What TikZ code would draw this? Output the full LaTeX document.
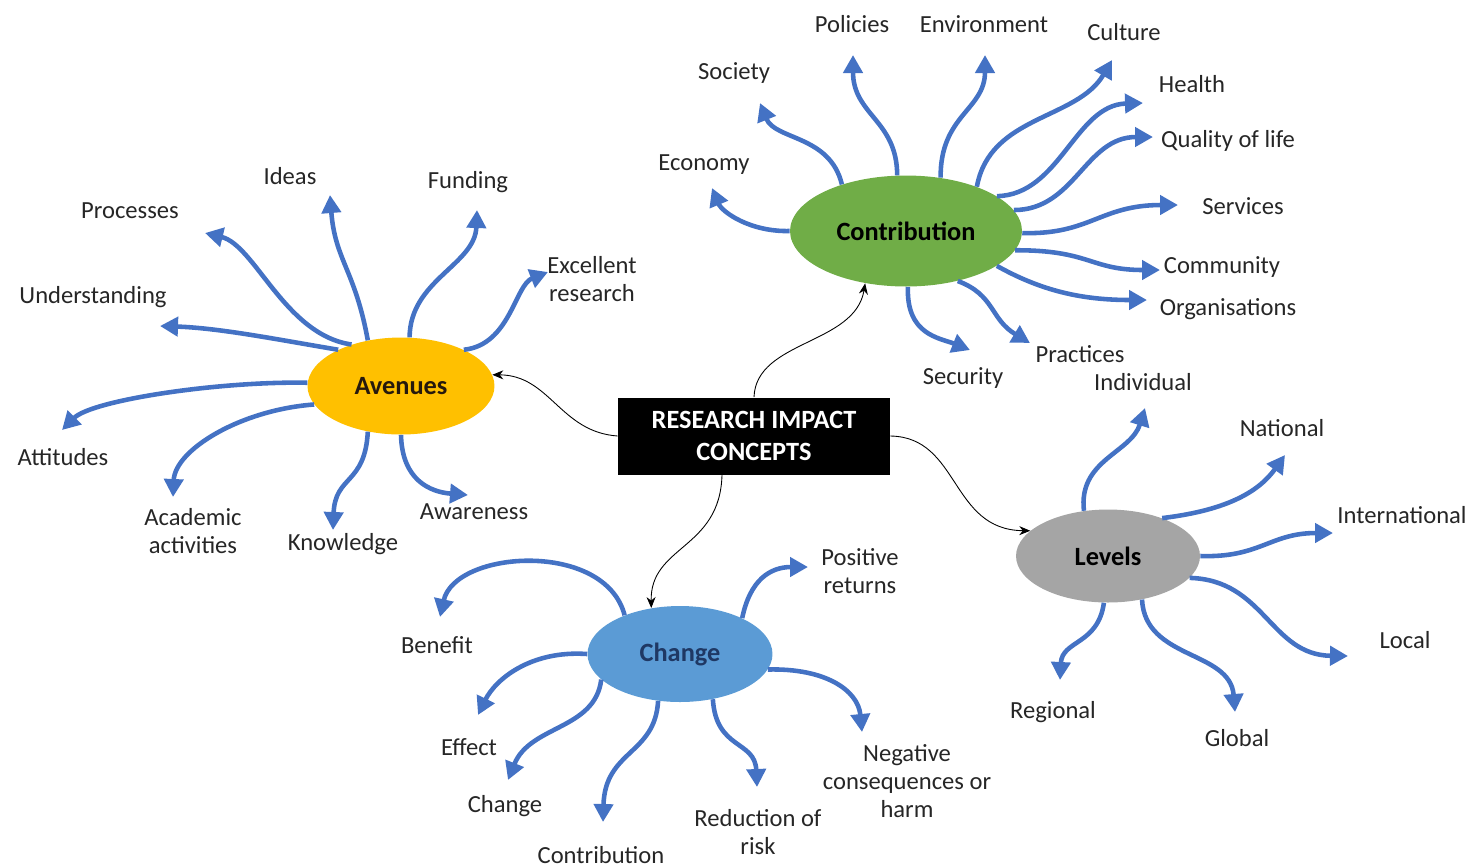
\documentclass[tikz,border=0pt]{standalone}
\usepackage{fontspec}
\setmainfont{Carlito}
\usetikzlibrary{shapes.geometric,arrows.meta}
\definecolor{spokeblue}{HTML}{4472C4}
\definecolor{hubgreen}{HTML}{70AD47}
\definecolor{hubgold}{HTML}{FFC000}
\definecolor{hubgray}{HTML}{A5A5A5}
\definecolor{hubblue}{HTML}{5B9BD5}
\definecolor{hubnavy}{HTML}{1F3864}
\tikzset{
  hub/.style={ellipse,inner sep=0pt,font=\fontsize{15}{18}\selectfont\bfseries},
  spoke/.style={draw=spokeblue,line width=2.6pt,-{Triangle[length=3.6mm,width=3.8mm]}},
  link/.style={draw=black,line width=0.5pt,-{Stealth[length=2.2mm,width=1.8mm]}},
  lbl/.style={font=\fontsize{14}{16}\selectfont,text=black!85,align=center,inner sep=0pt}
}
\begin{document}
\begin{tikzpicture}[x=0.02cm,y=-0.02cm]
\useasboundingbox (0,0) rectangle (1473,867);
\node[fill=black,text=white,font=\fontsize{15}{18}\selectfont\bfseries,align=center,minimum width=5.44cm,minimum height=1.54cm] (concepts) at (754,436) {RESEARCH IMPACT\\CONCEPTS};
\node[hub,fill=hubgreen,minimum width=4.64cm,minimum height=2.22cm] (contrib) at (906,231) {Contribution};
\node[hub,fill=hubgold,text=black!80!brown,minimum width=3.74cm,minimum height=1.94cm] (avenues) at (401,386) {Avenues};
\node[hub,fill=hubgray,minimum width=3.68cm,minimum height=1.86cm] (levels) at (1108,556) {Levels};
\node[hub,fill=hubblue,text=hubnavy,minimum width=3.7cm,minimum height=1.92cm] (change) at (680,654) {Change};

\draw[link] (concepts.north) .. controls (756,340) and (855,345) .. (contrib.-128);
\draw[link] (concepts.west) .. controls (560,432) and (550,375) .. (avenues.7);
\draw[link] (concepts.east) .. controls (960,437) and (950,530) .. (levels.162);
\draw[link] ([xshift=-0.64cm]concepts.south) .. controls (720,550) and (650,545) .. (change.122);

\node[lbl] (economy) at (704,165) {Economy};
\node[lbl] (society) at (734,73) {Society};
\node[lbl] (policies) at (852,24) {Policies};
\node[lbl] (environment) at (984,24) {Environment};
\node[lbl] (culture) at (1124,32) {Culture};
\node[lbl] (health) at (1192,84) {Health};
\node[lbl] (quality) at (1228,141) {Quality of life};
\node[lbl] (services) at (1243,206) {Services};
\node[lbl] (community) at (1222,267) {Community};
\node[lbl] (organisations) at (1228,309) {Organisations};
\node[lbl] (practices) at (1080,354) {Practices};
\node[lbl] (security) at (963,378) {Security};
\coordinate (economy-tip) at (712,188);
\coordinate (society-tip) at (760,103);
\coordinate (policies-tip) at (853,55);
\coordinate (environment-tip) at (985,55);
\coordinate (culture-tip) at (1112,60);
\coordinate (health-tip) at (1143,103);
\coordinate (quality-tip) at (1153,137);
\coordinate (services-tip) at (1178,205);
\coordinate (community-tip) at (1160,270);
\coordinate (organisations-tip) at (1147,300);
\coordinate (practices-tip) at (1030,343);
\coordinate (security-tip) at (970,350);
\draw[spoke] (contrib.180) .. controls (750,232) and (722,212) .. (economy-tip);
\draw[spoke] (contrib.144) .. controls (830,135) and (775,140) .. (society-tip);
\draw[spoke] (contrib.99) .. controls (897,120) and (853,115) .. (policies-tip);
\draw[spoke] (contrib.57) .. controls (940,115) and (985,110) .. (environment-tip);
\draw[spoke] (contrib.32) .. controls (990,115) and (1077,120) .. (culture-tip);
\draw[spoke] (contrib.21) .. controls (1060,195) and (1075,105) .. (health-tip);
\draw[spoke] (contrib.11) .. controls (1075,210) and (1085,137) .. (quality-tip);
\draw[spoke] (contrib.-1) .. controls (1090,235) and (1100,205) .. (services-tip);
\draw[spoke] (contrib.-10) .. controls (1090,250) and (1090,270) .. (community-tip);
\draw[spoke] (contrib.-21) .. controls (1040,290) and (1080,300) .. (organisations-tip);
\draw[spoke] (contrib.-44) .. controls (995,295) and (990,319) .. (practices-tip);
\draw[spoke] (contrib.-88) .. controls (906,335) and (940,338) .. (security-tip);

\node[lbl] (understanding) at (93,297) {Understanding};
\node[lbl] (processes) at (130,211) {Processes};
\node[lbl] (ideas) at (290,176) {Ideas};
\node[lbl] (funding) at (468,182) {Funding};
\node[lbl] (excellent) at (592,279) {Excellent\\research};
\node[lbl] (attitudes) at (63,457) {Attitudes};
\node[lbl] (academic) at (193,531) {Academic\\activities};
\node[lbl] (knowledge) at (343,544) {Knowledge};
\node[lbl] (awareness) at (474,512) {Awareness};
\coordinate (understanding-tip) at (160,326);
\coordinate (processes-tip) at (205,233);
\coordinate (ideas-tip) at (330,195);
\coordinate (funding-tip) at (477,210);
\coordinate (excellent-tip) at (548,272);
\coordinate (attitudes-tip) at (62,430);
\coordinate (academic-tip) at (173,497);
\coordinate (knowledge-tip) at (333,530);
\coordinate (awareness-tip) at (468,495);
\draw[spoke] (avenues.150) .. controls (280,340) and (220,328) .. (understanding-tip);
\draw[spoke] (avenues.140) .. controls (285,335) and (255,245) .. (processes-tip);
\draw[spoke] (avenues.126) .. controls (355,270) and (335,260) .. (ideas-tip);
\draw[spoke] (avenues.80) .. controls (410,280) and (475,265) .. (funding-tip);
\draw[spoke] (avenues.30) .. controls (510,345) and (515,285) .. (excellent-tip);
\draw[spoke] (avenues.178) .. controls (220,381) and (92,400) .. (attitudes-tip);
\draw[spoke] (avenues.192) .. controls (240,410) and (175,450) .. (academic-tip);
\draw[spoke] (avenues.234) .. controls (365,485) and (335,475) .. (knowledge-tip);
\draw[spoke] (avenues.270) .. controls (402,480) and (430,492) .. (awareness-tip);

\node[lbl] (benefit) at (437,645) {Benefit};
\node[lbl] (effect) at (469,747) {Effect};
\node[lbl] (change2) at (505,806) {Change};
\node[lbl] (contribution2) at (601,855) {Contribution};
\node[lbl] (reduction) at (758,832) {Reduction of\\risk};
\node[lbl] (negative) at (907,781) {Negative\\consequences or\\harm};
\node[lbl] (positive) at (860,571) {Positive\\returns};
\coordinate (benefit-tip) at (440,617);
\coordinate (effect-tip) at (478,715);
\coordinate (change2-tip) at (508,780);
\coordinate (contribution2-tip) at (603,822);
\coordinate (reduction-tip) at (757,787);
\coordinate (negative-tip) at (862,732);
\coordinate (positive-tip) at (808,567);
\draw[spoke] (change.145) .. controls (605,540) and (455,550) .. (benefit-tip);
\draw[spoke] (change.180) .. controls (530,650) and (495,680) .. (effect-tip);
\draw[spoke] (change.198) .. controls (595,730) and (530,725) .. (change2-tip);
\draw[spoke] (change.245) .. controls (655,755) and (605,750) .. (contribution2-tip);
\draw[spoke] (change.-54) .. controls (716,750) and (755,740) .. (reduction-tip);
\draw[spoke] (change.-10) .. controls (825,668) and (858,690) .. (negative-tip);
\draw[spoke] (change.30) .. controls (750,580) and (770,567) .. (positive-tip);

\node[lbl] (individual) at (1143,382) {Individual};
\node[lbl] (national) at (1282,428) {National};
\node[lbl] (international) at (1402,515) {International};
\node[lbl] (local) at (1405,640) {Local};
\node[lbl] (global) at (1237,738) {Global};
\node[lbl] (regional) at (1053,712) {Regional};
\coordinate (individual-tip) at (1145,408);
\coordinate (national-tip) at (1285,455);
\coordinate (international-tip) at (1333,533);
\coordinate (local-tip) at (1348,656);
\coordinate (global-tip) at (1235,712);
\coordinate (regional-tip) at (1060,680);
\draw[spoke] (levels.118) .. controls (1078,460) and (1131,453) .. (individual-tip);
\draw[spoke] (levels.35) .. controls (1230,510) and (1260,490) .. (national-tip);
\draw[spoke] (levels.0) .. controls (1260,558) and (1270,533) .. (international-tip);
\draw[spoke] (levels.-15) .. controls (1265,580) and (1270,655) .. (local-tip);
\draw[spoke] (levels.-52) .. controls (1145,660) and (1230,650) .. (global-tip);
\draw[spoke] (levels.-95) .. controls (1098,645) and (1062,640) .. (regional-tip);
\end{tikzpicture}
\end{document}
